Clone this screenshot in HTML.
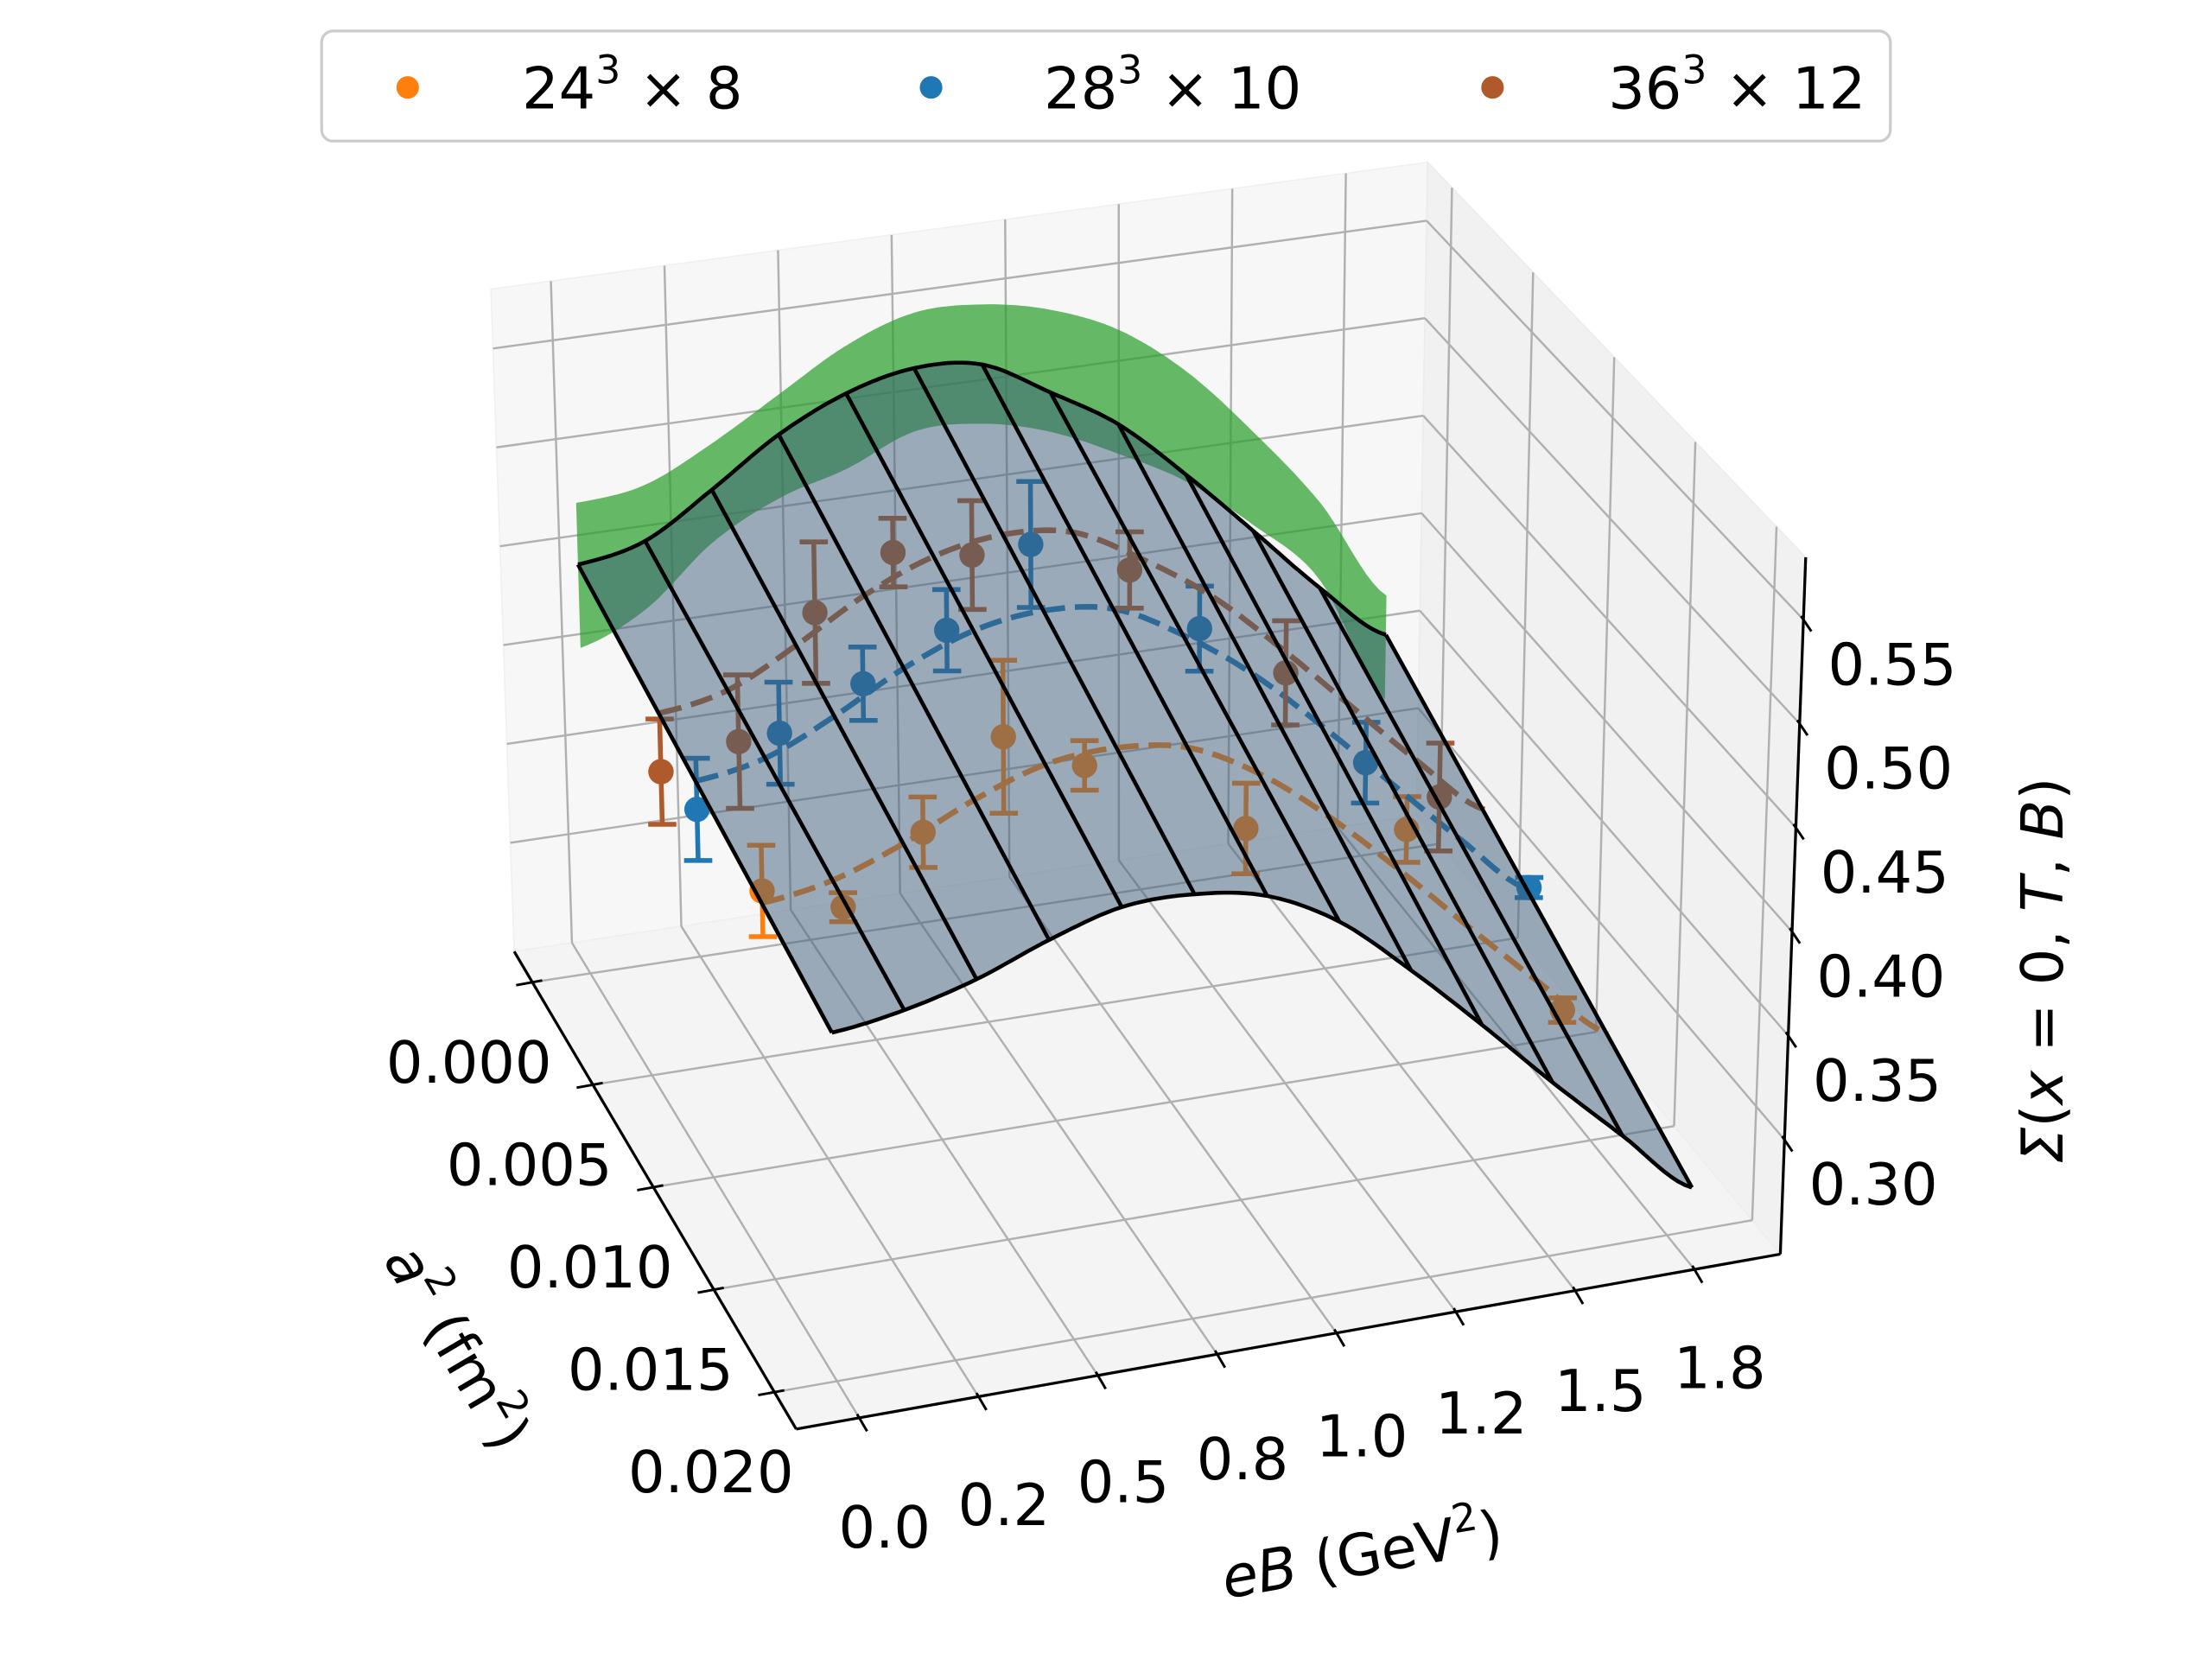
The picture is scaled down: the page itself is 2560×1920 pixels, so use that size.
<!DOCTYPE html>
<html><head><meta charset="utf-8"><style>
html,body{margin:0;padding:0;background:#fff;}
svg{display:block;font-family:"DejaVu Sans","Liberation Sans",sans-serif;}
</style></head><body>
<svg id="chart" xmlns="http://www.w3.org/2000/svg" width="2560" height="1920" viewBox="0 0 1568 1176">
<rect x="0" y="0" width="1568" height="1176" fill="#fff"/>
<g id="panes"></g>
<g id="grid"></g>
<g id="axes"></g>
<g id="band"></g>
<g id="series"></g>
<g id="surface"></g>
<g id="legend">
  <rect x="228" y="22" width="1112" height="78" rx="8" fill="#fff" fill-opacity="0.8" stroke="#cccccc" stroke-width="2"/>
  <g>
    <circle cx="289" cy="62" r="8" fill="#ff7f0e"/>
    <text x="370" y="77" font-size="41">24<tspan font-size="28" dy="-18">3</tspan><tspan dy="18"> × 8</tspan></text>
  </g>
  <g>
    <circle cx="660" cy="62" r="8" fill="#1f77b4"/>
    <text x="740" y="77" font-size="41">28<tspan font-size="28" dy="-18">3</tspan><tspan dy="18"> × 10</tspan></text>
  </g>
  <g>
    <circle cx="1058" cy="62" r="8" fill="#b05a2b"/>
    <text x="1140" y="77" font-size="41">36<tspan font-size="28" dy="-18">3</tspan><tspan dy="18"> × 12</tspan></text>
  </g>
</g>
<text x="0" y="0" font-size="41" text-anchor="middle" transform="translate(312,962) rotate(59.5)"><tspan font-style="italic">a</tspan><tspan font-size="28" dy="-18">2</tspan><tspan dy="18"> (fm</tspan><tspan font-size="28" dy="-18">2</tspan><tspan dy="18">)</tspan></text>
<text x="0" y="0" font-size="41" text-anchor="middle" transform="translate(968,1116) rotate(-9.8)"><tspan font-style="italic">eB</tspan> (GeV<tspan font-size="28" dy="-18">2</tspan><tspan dy="18">)</tspan></text>
<text x="0" y="0" font-size="41" text-anchor="middle" transform="translate(1462,688) rotate(-90)"><tspan font-style="italic">Σ</tspan>(<tspan font-style="italic">x</tspan> = 0, <tspan font-style="italic">T</tspan>, <tspan font-style="italic">B</tspan>)</text>
</svg>
<script>
// ---- data ----
const eGrid = [0, 0.15, 0.30, 0.45, 0.60, 0.75, 0.90, 1.05, 1.20, 1.35, 1.50, 1.65, 1.80];
const surfTop = [0.451, 0.458, 0.479, 0.502, 0.518, 0.526, 0.523, 0.504, 0.483, 0.4525, 0.419, 0.385, 0.356];
const surfBot = [0.410, 0.415, 0.424, 0.437, 0.447, 0.4475, 0.441, 0.423, 0.394, 0.362, 0.3286, 0.297, 0.266];
const bandHi = [0.482, 0.486, 0.502, 0.522, 0.542, 0.554, 0.5535, 0.546, 0.531, 0.505, 0.469, 0.428, 0.376];
const bandLo = [0.409, 0.424, 0.4525, 0.470, 0.480, 0.494, 0.493, 0.484, 0.468, 0.449, 0.422, 0.389, 0.323];
const surfA = [0, 0.020];

const eB8 = [0, 0.17, 0.34, 0.51, 0.68, 1.02, 1.36, 1.70];
const z8 = [0.427, 0.413, 0.443, 0.483, 0.463, 0.420, 0.407, 0.306];
const err8 = [0.022, 0.007, 0.017, 0.037, 0.012, 0.022, 0.016, 0.006];
const a8 = 0.0145;

const eB10 = [0, 0.18, 0.36, 0.54, 0.72, 1.08, 1.44, 1.80];
const z10 = [0.418, 0.449, 0.467, 0.487, 0.523, 0.469, 0.390, 0.315];
const err10 = [0.025, 0.025, 0.018, 0.020, 0.031, 0.021, 0.020, 0.005];
const a10 = 0.0093;

const eB12 = [0, 0.17, 0.34, 0.51, 0.68, 1.02, 1.36, 1.70];
const z12 = [0.409, 0.418, 0.476, 0.500, 0.493, 0.474, 0.411, 0.337];
const err12 = [0.026, 0.033, 0.035, 0.017, 0.027, 0.019, 0.026, 0.027];
const a12 = 0.0064;

const eTicks = [0, 0.25, 0.5, 0.75, 1.0, 1.25, 1.5, 1.75];
const eTickLabels = ["0.0", "0.2", "0.5", "0.8", "1.0", "1.2", "1.5", "1.8"];
const aTicks = [0, 0.005, 0.010, 0.015, 0.020];
const aTickLabels = ["0.000", "0.005", "0.010", "0.015", "0.020"];
const zTicks = [0.30, 0.35, 0.40, 0.45, 0.50, 0.55];
const zTickLabels = ["0.30", "0.35", "0.40", "0.45", "0.50", "0.55"];

// ---- projection ----
const E0 = -0.132, E1 = 1.93, A0 = -0.0015, A1 = 0.0218, Z0 = 0.245, Z1 = 0.58;
const C = {
  '000': [364.5, 674.5], '100': [1004, 578], '010': [564.4, 1013], '110': [1262, 889],
  '001': [348, 205], '101': [1012, 115], '011': [556, 508], '111': [1280, 395]
};
function P(e, a, z) {
  const u = (e - E0) / (E1 - E0), v = (a - A0) / (A1 - A0), w = (z - Z0) / (Z1 - Z0);
  let x = 0, y = 0;
  for (const k in C) {
    const wu = k[0] === '1' ? u : 1 - u, wv = k[1] === '1' ? v : 1 - v, ww = k[2] === '1' ? w : 1 - w;
    const f = wu * wv * ww;
    x += f * C[k][0]; y += f * C[k][1];
  }
  return [x, y];
}
// smooth (Catmull-Rom) evaluation of an array at fractional index t
function cr(arr, t) {
  const n = arr.length;
  let i = Math.floor(t); if (i >= n - 1) i = n - 2; if (i < 0) i = 0;
  const f = t - i;
  const p0 = arr[Math.max(i - 1, 0)], p1 = arr[i], p2 = arr[i + 1], p3 = arr[Math.min(i + 2, n - 1)];
  return 0.5 * ((2 * p1) + (-p0 + p2) * f + (2 * p0 - 5 * p1 + 4 * p2 - p3) * f * f + (-p0 + 3 * p1 - 3 * p2 + p3) * f * f * f);
}
function eAt(t) { return eGrid[0] + (eGrid[eGrid.length - 1] - eGrid[0]) * t / (eGrid.length - 1); }
function samples(t0, t1, step) { const r = []; for (let t = t0; t < t1 - 1e-9; t += step) r.push(t); r.push(t1); return r; }

const NS = 'http://www.w3.org/2000/svg';
function mk(tag, parent, attrs) {
  const el = document.createElementNS(NS, tag);
  for (const k in attrs) el.setAttribute(k, attrs[k]);
  parent.appendChild(el);
  return el;
}
function pts(list) { return list.map(p => p[0].toFixed(1) + ',' + p[1].toFixed(1)).join(' '); }

// panes
const gp = document.getElementById('panes');
let el;
el = mk('polygon', gp, {points: pts([P(E0,A0,Z0),P(E1,A0,Z0),P(E1,A0,Z1),P(E0,A0,Z1)]), fill: '#f7f7f7', stroke: '#f0f0f0', 'stroke-width': 1});


el = mk('polygon', gp, {points: pts([P(E1,A0,Z0),P(E1,A1,Z0),P(E1,A1,Z1),P(E1,A0,Z1)]), fill: '#f1f1f1', stroke: '#ececec', 'stroke-width': 1});


el = mk('polygon', gp, {points: pts([P(E0,A0,Z0),P(E1,A0,Z0),P(E1,A1,Z0),P(E0,A1,Z0)]), fill: '#f4f4f4', stroke: '#eeeeee', 'stroke-width': 1});



// grid
const gg = document.getElementById('grid');
function gline(p, q, name) {
  const l = mk('line', gg, {x1: p[0], y1: p[1], x2: q[0], y2: q[1], stroke: '#b0b0b0', 'stroke-width': 1.5});
  
  
}
eTicks.forEach(e => { gline(P(e,A0,Z0), P(e,A0,Z1), 'grid-back-eb'); gline(P(e,A0,Z0), P(e,A1,Z0), 'grid-floor-eb'); });
zTicks.forEach(z => { gline(P(E0,A0,z), P(E1,A0,z), 'grid-back-z'); gline(P(E1,A0,z), P(E1,A1,z), 'grid-side-z'); });
aTicks.forEach(a => { gline(P(E0,a,Z0), P(E1,a,Z0), 'grid-floor-a'); gline(P(E1,a,Z0), P(E1,a,Z1), 'grid-side-a'); });

// axes
const ga = document.getElementById('axes');
function aline(p, q, name, w) {
  const l = mk('line', ga, {x1: p[0], y1: p[1], x2: q[0], y2: q[1], stroke: '#000', 'stroke-width': w || 2});
  
  
}
function atext(x, y, s, name) {
  const t = mk('text', ga, {x: x, y: y, 'font-size': 41, 'text-anchor': 'middle', 'dominant-baseline': 'central'});
  t.textContent = s;
  
  
}
aline(P(E0,A0,Z0), P(E0,A1,Z0), 'a2-axis-line');
aline(P(E0,A1,Z0), P(E1,A1,Z0), 'eb-axis-line');
aline(P(E1,A1,Z0), P(E1,A1,Z1), 'sigma-axis-line');
aTicks.forEach((a, i) => {
  const p = P(E0, a, Z0);
  aline([p[0] - 11.5, p[1] + 2.1], [p[0] + 7, p[1] - 1.3], 'a2-tick', 1.8);
  atext(p[0] - 45, p[1] + 57, aTickLabels[i], 'a2-tick-label');
});
eTicks.forEach((e, i) => {
  const p = P(e, A1, Z0);
  aline([p[0] - 1.5, p[1] - 2.6], [p[0] + 5.6, p[1] + 9.5], 'eb-tick', 1.8);
  atext(p[0] + 18, p[1] + 78 - 8 * i / 7, eTickLabels[i], 'eb-tick-label');
});
zTicks.forEach((z, i) => {
  const p = P(E1, A1, z);
  aline([p[0] - 1.7, p[1] - 2.5], [p[0] + 5.6, p[1] + 8.3], 'sigma-tick', 1.8);
  atext(p[0] + 63, p[1] + 32, zTickLabels[i], 'sigma-tick-label');
});

const N = eGrid.length - 1;
const allT = samples(0, N, 0.1);

// green band at a2 = 0
const gb = document.getElementById('band');
const bandPts = allT.map(t => P(eAt(t), surfA[0], cr(bandHi, t))).concat(allT.map(t => P(eAt(t), surfA[0], cr(bandLo, t))).reverse());
el = mk('polygon', gb, {points: pts(bandPts), fill: 'rgb(44,160,44)', 'fill-opacity': 0.72});



// surface helper
function surfZt(t, a) { const tp = cr(surfTop, t), bt = cr(surfBot, t); return tp + (bt - tp) * (a - surfA[0]) / (surfA[1] - surfA[0]); }

// data series
const gs = document.getElementById('series');
function drawSeries(eArr, zArr, errArr, a, color, key) {
  const g = mk('g', gs, {});
  
  
  const fit = allT.map(t => P(eAt(t), a, surfZt(t, a)));
  el = mk('polyline', g, {points: pts(fit), fill: 'none', stroke: color, 'stroke-width': 4, 'stroke-dasharray': '16 7'});
  
  
  eArr.forEach((e, i) => {
    const lo = P(e, a, zArr[i] - errArr[i]), hi = P(e, a, zArr[i] + errArr[i]), c = P(e, a, zArr[i]);
    el = mk('line', g, {x1: lo[0], y1: lo[1], x2: hi[0], y2: hi[1], stroke: color, 'stroke-width': 3.4});
    
    
    [lo, hi].forEach(p => {
      el = mk('line', g, {x1: p[0] - 10, y1: p[1], x2: p[0] + 10, y2: p[1], stroke: color, 'stroke-width': 3.4});
      
      
    });
    el = mk('circle', g, {cx: c[0], cy: c[1], r: 9, fill: color});
    
    
  });
}
drawSeries(eB8, z8, err8, a8, '#ff7f0e', '24x8');
drawSeries(eB10, z10, err10, a10, '#1f77b4', '28x10');
drawSeries(eB12, z12, err12, a12, '#b05a2b', '36x12');

// surface
const gsf = document.getElementById('surface');
for (let i = 0; i < N; i++) {
  const ts = samples(i, i + 1, 0.1);
  const top = ts.map(t => P(eAt(t), surfA[0], cr(surfTop, t)));
  const bot = ts.map(t => P(eAt(t), surfA[1], cr(surfBot, t))).reverse();
  el = mk('polygon', gsf, {points: pts(top.concat(bot)), fill: 'rgb(62,94,122)', 'fill-opacity': 0.5, stroke: 'none'});
  
  
}
eGrid.forEach((e, i) => {
  const p = P(e, surfA[0], surfTop[i]), q = P(e, surfA[1], surfBot[i]);
  el = mk('line', gsf, {x1: p[0], y1: p[1], x2: q[0], y2: q[1], stroke: '#000', 'stroke-width': 2.8});
  
  
});
el = mk('polyline', gsf, {points: pts(allT.map(t => P(eAt(t), surfA[0], cr(surfTop, t)))), fill: 'none', stroke: '#000', 'stroke-width': 2.8, 'stroke-linejoin': 'round'});


el = mk('polyline', gsf, {points: pts(allT.map(t => P(eAt(t), surfA[1], cr(surfBot, t)))), fill: 'none', stroke: '#000', 'stroke-width': 2.8, 'stroke-linejoin': 'round'});


</script>
</body></html>
